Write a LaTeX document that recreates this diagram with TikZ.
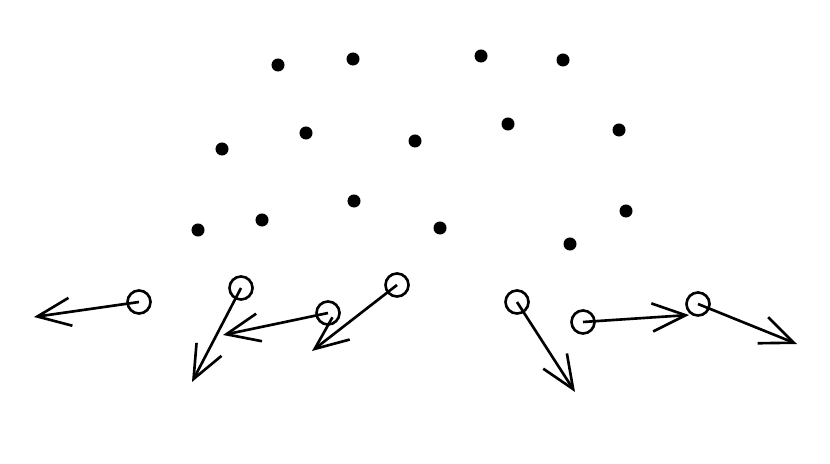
\documentclass[tikz,border=0pt]{standalone}
\usepackage{amsmath}
\usepackage{amssymb}
\usepackage{tikz}
\usepackage{xcolor}
\usetikzlibrary{arrows.meta}

\begin{document}
\begin{tikzpicture}[x=0.01cm,y=-0.01cm,
    dot/.style={circle,fill=black,inner sep=0pt,minimum size=0.13cm},
    ring/.style={circle,draw,line width=0.75pt,inner sep=0pt,minimum size=0.23cm},
    vel/.style={line width=0.75pt,-{Straight Barb[length=9.5pt,width=8pt,line width=0.75pt]}}]
            \useasboundingbox (0,0) rectangle (830,464);
            % filled points
            \node[dot] (p1) at (278,65) {};
            \node[dot] (p2) at (353,59) {};
            \node[dot] (p3) at (481,56) {};
            \node[dot] (p4) at (563,60) {};
            \node[dot] (p5) at (222,149) {};
            \node[dot] (p6) at (306,133) {};
            \node[dot] (p7) at (415,141) {};
            \node[dot] (p8) at (508,124) {};
            \node[dot] (p9) at (619,130) {};
            \node[dot] (p10) at (198,230) {};
            \node[dot] (p11) at (262,220) {};
            \node[dot] (p12) at (354,201) {};
            \node[dot] (p13) at (440,228) {};
            \node[dot] (p14) at (626,211) {};
            \node[dot] (p15) at (570,244) {};
            % open points
            \node[ring] (q1) at (139,302) {};
            \node[ring] (q2) at (241,288) {};
            \node[ring] (q3) at (328,313) {};
            \node[ring] (q4) at (397,285) {};
            \node[ring] (q5) at (517,302) {};
            \node[ring] (q6) at (583,322) {};
            \node[ring] (q7) at (698,304) {};
            \coordinate (e1) at (34,317);
            \coordinate (e2) at (192,382);
            \coordinate (e3) at (223,335);
            \coordinate (e4) at (312,351);
            \coordinate (e5) at (575,392);
            \coordinate (e6) at (689,315);
            \coordinate (e7) at (797,344);
            \draw[vel] (q1.center)--(e1);
            \draw[vel] (q2.center)--(e2);
            \draw[vel] (q3.center)--(e3);
            \draw[vel] (q4.center)--(e4);
            \draw[vel] (q5.center)--(e5);
            \draw[vel] (q6.center)--(e6);
            \draw[vel] (q7.center)--(e7);
    \end{tikzpicture}
\end{document}
